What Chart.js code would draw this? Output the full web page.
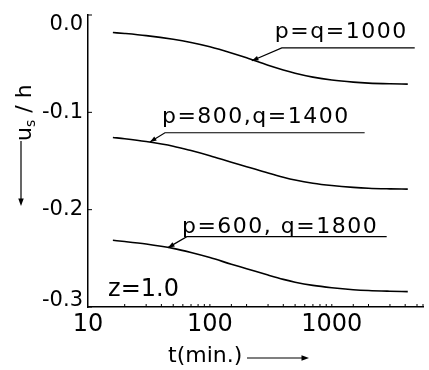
<!DOCTYPE html>
<html>
<head>
<meta charset="utf-8">
<script src="https://cdn.jsdelivr.net/npm/chart.js@4/dist/chart.umd.min.js"></script>
<style>
  html, body { margin: 0; padding: 0; background: #fff; }
  #wrap { width: 429px; height: 370px; }
</style>
</head>
<body>
<div id="wrap"><canvas id="chart" width="429" height="370"></canvas></div>
<script>
// time in minutes (log axis)
const tMinutes = [16, 20, 30, 50, 70, 100, 150, 200, 300, 400, 500, 700, 1000, 1500, 2000, 3000, 4200];
// u_s / h for each parameter set
const pq1000 = [-0.0180, -0.0190, -0.0212, -0.0250, -0.0283, -0.0327, -0.0390, -0.0440, -0.0517, -0.0565, -0.0598, -0.0638, -0.0668, -0.0690, -0.0700, -0.0707, -0.0710];
const p800q1400 = [-0.1258, -0.1271, -0.1300, -0.1348, -0.1393, -0.1446, -0.1513, -0.1558, -0.1623, -0.1666, -0.1695, -0.1728, -0.1752, -0.1771, -0.1780, -0.1786, -0.1789];
const p600q1800 = [-0.2315, -0.2327, -0.2353, -0.2398, -0.2440, -0.2492, -0.2560, -0.2606, -0.2672, -0.2716, -0.2745, -0.2778, -0.2802, -0.2822, -0.2831, -0.2838, -0.2842];
const seriesLabels = ['p=q=1000', 'p=800,q=1400', 'p=600, q=1800'];
const xTickLabels = [10, 100, 1000];
const yTickValues = [0, -0.1, -0.2, -0.3];

// leader notes, placed in data units: tip on the curve, elbow, end of underline, text origin
const notes = [
  { text: seriesLabels[0], tip: [221, -0.0470], elbow: [389, -0.0338], end: 4790, at: [341, -0.0236] },
  { text: seriesLabels[1], tip: [32.2, -0.1304], elbow: [42.8, -0.121], end: 1860, at: [40.4, -0.111] },
  { text: seriesLabels[2], tip: [45.3, -0.2390], elbow: [64.7, -0.2277], end: 2820, at: [59, -0.2236] }
];
const zNote = { text: 'z=1.0', at: [14.6, -0.289] };

const FONT = '"DejaVu Sans", sans-serif';

function toPoints(vals) {
  return tMinutes.map((t, i) => ({ x: t, y: vals[i] }));
}

function arrowHead(ctx, x0, y0, x1, y1, size) {
  const a = Math.atan2(y1 - y0, x1 - x0);
  ctx.beginPath();
  ctx.moveTo(x1, y1);
  ctx.lineTo(x1 - size * Math.cos(a - 0.35), y1 - size * Math.sin(a - 0.35));
  ctx.lineTo(x1 - size * Math.cos(a + 0.35), y1 - size * Math.sin(a + 0.35));
  ctx.closePath();
  ctx.fill();
}

const decorations = {
  id: 'decorations',
  afterDraw(chart) {
    const ctx = chart.ctx;
    const xs = chart.scales.x, ys = chart.scales.y;
    const area = chart.chartArea;
    ctx.save();
    ctx.strokeStyle = '#000';
    ctx.fillStyle = '#000';

    // small inward ticks
    ctx.lineWidth = 1;
    xs.ticks.forEach(tk => {
      const px = xs.getPixelForValue(tk.value);
      if (px <= area.left + 1) return;
      ctx.beginPath();
      ctx.moveTo(px, area.bottom);
      ctx.lineTo(px, area.bottom - 3);
      ctx.stroke();
    });
    yTickValues.forEach(v => {
      const py = ys.getPixelForValue(v);
      ctx.beginPath();
      ctx.moveTo(area.left, py);
      ctx.lineTo(area.left + 4, py);
      ctx.stroke();
    });

    // y tick labels, kept inside the axis span at both ends
    ctx.font = '21px ' + FONT;
    ctx.textAlign = 'right';
    yTickValues.forEach(v => {
      const py = ys.getPixelForValue(v);
      ctx.textBaseline = v === ys.max ? 'top' : (v === ys.min ? 'bottom' : 'middle');
      ctx.fillText(v.toFixed(1), area.left - 5, py + (v === ys.max ? -1 : (v === ys.min ? 4 : 0)));
    });
    ctx.textAlign = 'left';
    ctx.textBaseline = 'alphabetic';

    // leader notes
    ctx.lineWidth = 1.2;
    ctx.font = '22px ' + FONT;
    ctx.letterSpacing = '1.5px';
    notes.forEach(n => {
      const tx = xs.getPixelForValue(n.tip[0]), ty = ys.getPixelForValue(n.tip[1]);
      const ex = xs.getPixelForValue(n.elbow[0]), ey = ys.getPixelForValue(n.elbow[1]);
      const endX = xs.getPixelForValue(n.end);
      ctx.beginPath();
      ctx.moveTo(endX, ey);
      ctx.lineTo(ex, ey);
      ctx.lineTo(tx, ty);
      ctx.stroke();
      arrowHead(ctx, ex, ey, tx, ty, 7);
      ctx.fillText(n.text, xs.getPixelForValue(n.at[0]), ys.getPixelForValue(n.at[1]));
    });

    ctx.font = '24px ' + FONT;
    ctx.letterSpacing = '0px';
    ctx.fillText(zNote.text, xs.getPixelForValue(zNote.at[0]), ys.getPixelForValue(zNote.at[1]));

    // x title with arrow
    ctx.font = '22px ' + FONT;
    ctx.fillText('t(min.)', 168, 362);
    ctx.lineWidth = 1.2;
    ctx.beginPath();
    ctx.moveTo(247, 358);
    ctx.lineTo(306, 358);
    ctx.stroke();
    arrowHead(ctx, 247, 358, 309, 358, 8);

    // y title, rotated, with subscript and arrow
    ctx.save();
    ctx.translate(31, 141);
    ctx.rotate(-Math.PI / 2);
    ctx.font = '22px ' + FONT;
    ctx.fillText('u', 0, 0);
    let w = ctx.measureText('u').width;
    ctx.font = '14px ' + FONT;
    ctx.fillText('s', w, 4);
    w += ctx.measureText('s').width;
    ctx.font = '22px ' + FONT;
    ctx.fillText(' / h', w, 0);
    ctx.restore();
    ctx.beginPath();
    ctx.moveTo(21, 141);
    ctx.lineTo(21, 200);
    ctx.stroke();
    arrowHead(ctx, 21, 141, 21, 206, 8);

    ctx.restore();
  }
};

const ctx = document.getElementById('chart');

new Chart(ctx, {
  type: 'line',
  data: {
    datasets: [pq1000, p800q1400, p600q1800].map((vals, i) => ({
      label: seriesLabels[i],
      data: toPoints(vals),
      borderColor: '#000',
      borderWidth: 1.6,
      pointRadius: 0,
      fill: false,
      cubicInterpolationMode: 'monotone'
    }))
  },
  options: {
    responsive: false,
    animation: false,
    layout: { padding: { left: 0, top: 15, right: 6, bottom: 0 } },
    plugins: { legend: { display: false }, tooltip: { enabled: false } },
    scales: {
      x: {
        type: 'logarithmic',
        min: 10,
        max: 5600,
        grid: { display: false },
        border: { color: '#000', width: 1.5 },
        afterFit: s => { s.height = 63; },
        ticks: {
          color: '#000',
          padding: -5,
          autoSkip: false,
          maxRotation: 0,
          font: { family: FONT, size: 24 },
          callback: v => xTickLabels.includes(v) ? String(v) : ''
        }
      },
      y: {
        type: 'linear',
        min: -0.3,
        max: 0,
        grid: { display: false },
        border: { color: '#000', width: 1.5 },
        afterFit: s => { s.width = 88; },
        afterBuildTicks: s => { s.ticks = yTickValues.map(v => ({ value: v })); },
        ticks: { display: false }
      }
    }
  },
  plugins: [decorations]
});
</script>
</body>
</html>
